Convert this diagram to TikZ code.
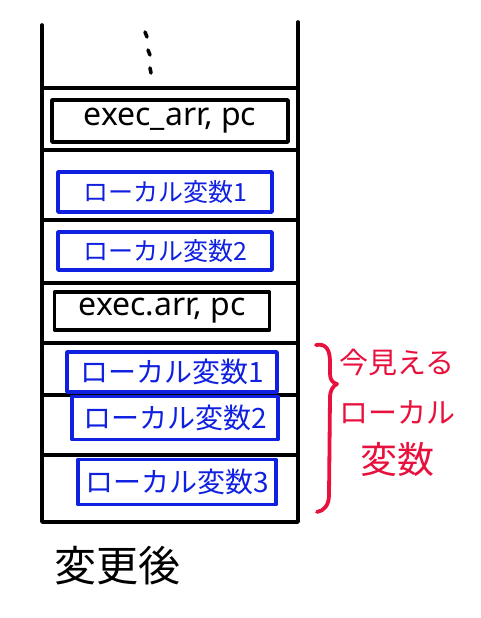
\documentclass[tikz,border=0pt]{standalone}
\usepackage{fontspec}
\setmainfont{Noto Sans}
\newfontfamily\jp{Noto Sans CJK JP}
\definecolor{pblue}{RGB}{16,32,224}
\definecolor{pred}{RGB}{232,16,60}
\begin{document}
\begin{tikzpicture}[x=1pt,y=-1pt,line cap=round,line join=round,
  stackline/.style={draw=black,line width=3.6pt},
  execbox/.style={draw=black,line width=3.6pt,rectangle,inner sep=0pt,font=\fontsize{32}{34}\selectfont},
  varbox/.style={draw=pblue,text=pblue,line width=3.6pt,rectangle,inner sep=0pt,font=\jp\fontsize{25}{28}\selectfont},
  bigvar/.style={varbox,font=\jp\fontsize{28}{30}\selectfont},
  redtext/.style={text=pred,font=\jp\fontsize{29}{50}\selectfont,align=center},
  captiontext/.style={font=\jp\fontsize{42}{46}\selectfont}]
\useasboundingbox (0,0) rectangle (480,618);
% stack outline
\coordinate (tl) at (42,25);
\coordinate (tr) at (298,22);
\coordinate (bl) at (42,522);
\coordinate (br) at (298,522);
\draw[stackline] (tl) -- (bl) -- (br) -- (tr);
% separators
\foreach \y in {88,150,220,283,343,395,455}
  \draw[stackline] (42,\y) -- (298,\y);
% dots
\draw[line width=3.6pt] (145,32) -- (147,37);
\draw[line width=3.6pt] (148,50) -- (150,55);
\draw[line width=3.6pt] (150,68) -- (151,73);
% boxes
\node[execbox,minimum width=236pt,minimum height=42pt] (e1) at (170,121) {exec\_arr, pc};
\node[varbox,minimum width=214pt,minimum height=40pt] (v1) at (165,192) {ローカル変数1};
\node[varbox,minimum width=214pt,minimum height=38pt] (v2) at (165,251) {ローカル変数2};
\node[execbox,minimum width=215pt,minimum height=38pt] (e2) at (162,311) {exec.arr, pc};
\node[bigvar,minimum width=210pt,minimum height=40pt] (w1) at (172,372) {ローカル変数1};
\node[bigvar,minimum width=206pt,minimum height=43pt] (w2) at (175,418) {ローカル変数2};
\node[bigvar,minimum width=198pt,minimum height=45pt] (w3) at (177,482) {ローカル変数3};
% brace
\draw[draw=pred,line width=3.8pt] (316,345) .. controls (326,343) and (330,350) .. (330,362) -- (330,374)
  .. controls (330,380) and (333,383) .. (337,384)
  .. controls (333,386) and (330,390) .. (330,398) -- (329,495)
  .. controls (329,505) and (324,511) .. (317,512);
\node[redtext,anchor=north] (lbl) at (397,346) {今見える\\ローカル\\{\fontsize{37}{40}\selectfont 変数}};
% caption
\node[captiontext] (cap) at (117,566) {変更後};
\end{tikzpicture}
\end{document}
